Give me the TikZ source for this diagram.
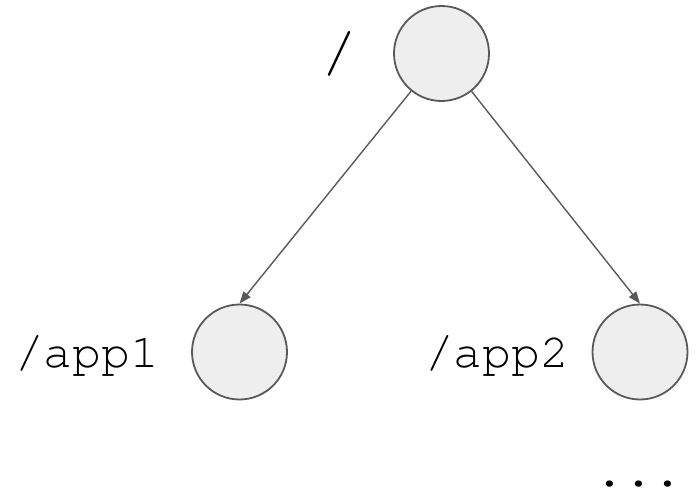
\documentclass[tikz,border=0pt]{standalone}
\usepackage{fontspec}
\setmonofont{TeX Gyre Cursor}
\usetikzlibrary{arrows.meta}
\definecolor{edgegray}{HTML}{595959}
\definecolor{nodefill}{HTML}{EEEEEE}
\tikzset{
  tnode/.style={circle,draw=edgegray,fill=nodefill,line width=1.8pt,minimum size=95pt,inner sep=0pt},
  tlabel/.style={font=\fontsize{48}{48}\selectfont\ttfamily,inner sep=0pt,anchor=base},
  tedge/.style={-{Triangle[length=12pt,width=9pt]},edgegray,line width=1.4pt}
}
\begin{document}
\begin{tikzpicture}[x=1pt,y=-1pt]
        \useasboundingbox (0,0) rectangle (700,495);
        \node[tnode] (root) at (441.5,53.5) {};
        \node[tnode] (app1) at (239.5,352) {};
        \node[tnode] (app2) at (640,352) {};
        \draw[tedge] (root) -- (app1.north);
        \draw[tedge] (root) -- (app2.north);
        \node[tlabel,font=\fontsize{60}{60}\selectfont\ttfamily] (rootname) at (339,71) {/};
        \node[tlabel] (app1name) at (87,367) {/app1};
        \node[tlabel] (app2name) at (497,367) {/app2};
        \node[tlabel] (more) at (639,486) {...};
    \end{tikzpicture}
\end{document}
